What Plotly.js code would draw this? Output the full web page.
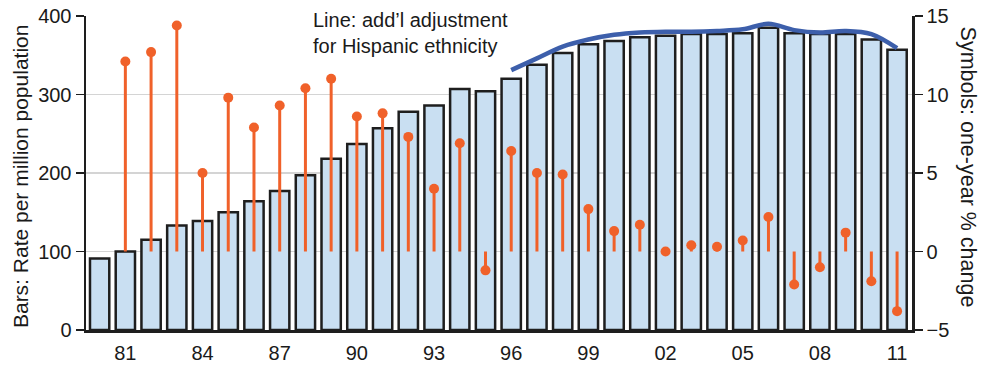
<!DOCTYPE html>
<html>
<head>
<meta charset="utf-8">
<script src="https://cdn.plot.ly/plotly-3.0.1.min.js"></script>
<style>html,body{margin:0;padding:0;background:#fff;}#chart{width:982px;height:370px;}</style>
</head>
<body>
<div id="chart"></div>
<script>
// Data
var years = [1980,1981,1982,1983,1984,1985,1986,1987,1988,1989,1990,1991,1992,1993,1994,1995,1996,1997,1998,1999,2000,2001,2002,2003,2004,2005,2006,2007,2008,2009,2010,2011];
var rates = [91,100,115,133,139,150,164,177,197,218,237,257,278,286,307,304,320,338,353,364,368,373,375,377,377,378,385,378,377,377,370,357];
var pctYears = [1981,1982,1983,1984,1985,1986,1987,1988,1989,1990,1991,1992,1993,1994,1995,1996,1997,1998,1999,2000,2001,2002,2003,2004,2005,2006,2007,2008,2009,2010,2011];
var pctChange = [12.1,12.7,14.4,5.0,9.8,7.9,9.3,10.4,11.0,8.6,8.8,7.3,4.0,6.9,-1.2,6.4,5.0,4.9,2.7,1.3,1.7,0.0,0.4,0.3,0.7,2.2,-2.1,-1.0,1.2,-1.9,-3.8];
var adjYears = [1996,1997,1998,1999,2000,2001,2002,2003,2004,2005,2006,2007,2008,2009,2010,2011];
var adjRates = [331,346,361,370,376,379,380,380,381,383,390,382,379,381,377,359];
var tickYears = [1981,1984,1987,1990,1993,1996,1999,2002,2005,2008,2011];
var tickLabels = ['81','84','87','90','93','96','99','02','05','08','11'];

var font = 'Liberation Sans, Arial, Helvetica, sans-serif';
var orange = '#f0612a';
var ink = '#1a1a1a';

var bars = {
  type: 'bar', x: years, y: rates, yaxis: 'y',
  marker: {color: '#c9dff2', line: {color: '#1e1e1e', width: 2.5}},
  hoverinfo: 'x+y'
};
var stems = {
  type: 'scatter', mode: 'markers', x: pctYears, y: pctChange, yaxis: 'y2',
  marker: {color: orange, size: 10},
  error_y: {
    type: 'data', symmetric: false,
    array: pctChange.map(function(v){ return v < 0 ? -v : 0; }),
    arrayminus: pctChange.map(function(v){ return v > 0 ? v : 0; }),
    color: orange, thickness: 3, width: 0
  }
};
var line = {
  type: 'scatter', mode: 'lines', x: adjYears, y: adjRates, yaxis: 'y',
  line: {color: '#3d5fab', width: 4.5, shape: 'spline', smoothing: 1}
};

var layout = {
  width: 982, height: 370,
  margin: {l: 86, r: 70, t: 16, b: 40},
  paper_bgcolor: '#fff', plot_bgcolor: '#fff',
  showlegend: false,
  bargap: 0.25,
  font: {family: font, size: 20, color: ink},
  xaxis: {
    range: [1979.47, 2011.58],
    tickvals: tickYears, ticktext: tickLabels,
    showgrid: false, zeroline: false,
    showline: true, linecolor: '#1e1e1e', linewidth: 2.5,
    ticks: 'outside', ticklen: 3, tickcolor: 'rgba(0,0,0,0)',
    tickfont: {size: 20, color: ink}
  },
  yaxis: {
    range: [0, 400], dtick: 100,
    showgrid: true, gridcolor: '#d4d4d4', gridwidth: 1.2,
    zeroline: false,
    showline: true, linecolor: '#1e1e1e', linewidth: 2.5,
    ticks: 'outside', ticklen: 8, tickwidth: 1.5, tickcolor: '#1e1e1e',
    tickfont: {size: 20, color: ink}
  },
  yaxis2: {
    range: [-5, 15], dtick: 5, overlaying: 'y', side: 'right',
    showgrid: false, zeroline: false,
    showline: true, linecolor: '#1e1e1e', linewidth: 2.5,
    ticks: 'outside', ticklen: 8, tickwidth: 1.5, tickcolor: '#1e1e1e',
    tickfont: {size: 20, color: ink}
  },
  annotations: [
    {
      xref: 'paper', yref: 'paper', x: 0.272, y: 1.03, xanchor: 'left', yanchor: 'top',
      align: 'left', showarrow: false,
      text: 'Line: add’l adjustment<br>for Hispanic ethnicity',
      font: {size: 20, color: ink}
    },
    {
      xref: 'paper', yref: 'paper', x: -0.08, y: 0.49, xanchor: 'center', yanchor: 'middle',
      showarrow: false, textangle: -90,
      text: 'Bars: Rate per million population',
      font: {size: 21, color: ink}
    },
    {
      xref: 'paper', yref: 'paper', x: 1.068, y: 0.52, xanchor: 'center', yanchor: 'middle',
      showarrow: false, textangle: 90,
      text: 'Symbols: one-year % change',
      font: {size: 21.5, color: ink}
    }
  ]
};

Plotly.newPlot('chart', [bars, stems, line], layout, {staticPlot: true, displayModeBar: false});
</script>
</body>
</html>
